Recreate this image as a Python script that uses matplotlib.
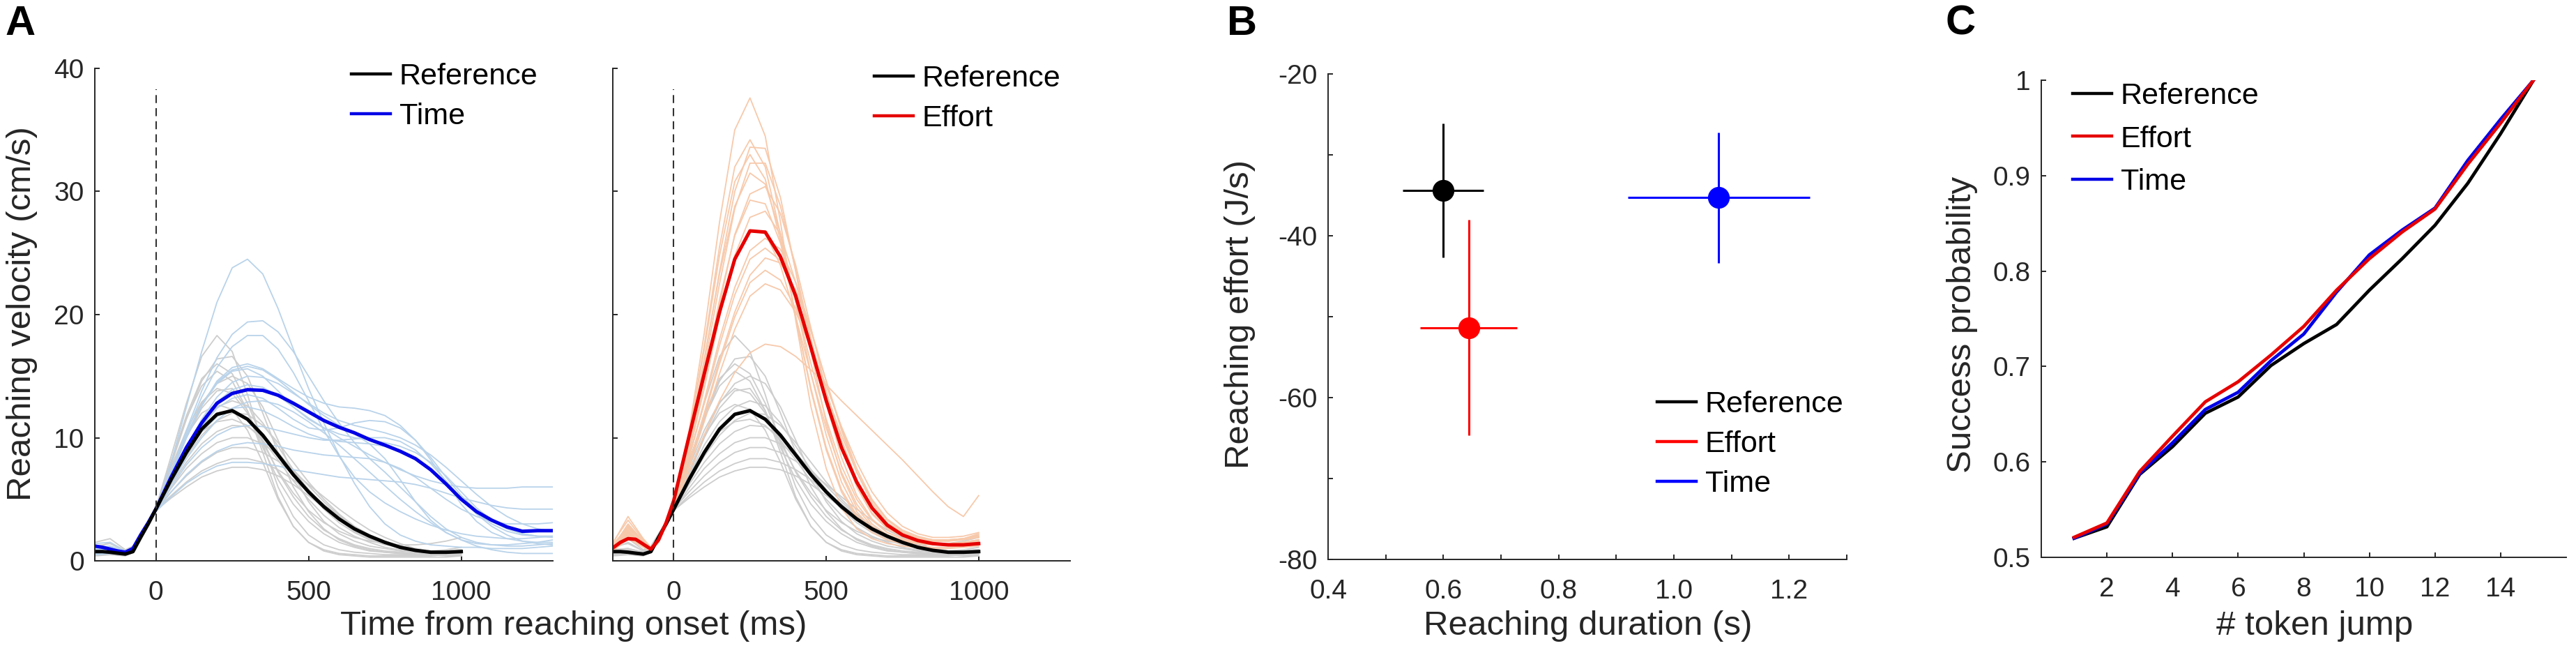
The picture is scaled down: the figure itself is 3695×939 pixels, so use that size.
import matplotlib
matplotlib.use('Agg')
import matplotlib.pyplot as plt
from matplotlib.lines import Line2D

plt.rcParams['font.family'] = ['Liberation Sans', 'DejaVu Sans']

# ---------------- data ----------------
# time grid of the group mean curves (ms)
T_MEAN = [-200, -175, -150, -125, -100, -75, -50, -25, 0, 50, 100, 150, 200, 250, 300, 350,
          400, 450, 500, 550, 600, 650, 700, 750, 800, 850, 900, 950, 1000]
T_MEAN_LONG = T_MEAN + [1050, 1100, 1150, 1200, 1250, 1300]

ref_mean = [0.75, 0.75, 0.7, 0.62, 0.55, 0.75, 1.9, 3.0, 4.2, 6.6, 8.8, 10.7, 11.9, 12.2, 11.5, 10.2,
            8.6, 7.0, 5.6, 4.4, 3.4, 2.6, 2.0, 1.5, 1.1, 0.85, 0.7, 0.7, 0.75]
time_mean = [1.2, 1.1, 0.95, 0.8, 0.7, 1.0, 2.1, 3.1, 4.2, 6.8, 9.2, 11.2, 12.8, 13.6, 13.9, 13.85,
             13.45, 12.8, 12.1, 11.4, 10.85, 10.4, 9.85, 9.4, 8.9, 8.3, 7.4, 6.25, 5.0,
             4.0, 3.3, 2.75, 2.4, 2.45, 2.45]
effort_mean = [1.05, 1.5, 1.8, 1.75, 1.35, 0.95, 1.7, 3.1, 4.9, 10.1, 15.2, 20.2, 24.5, 26.8, 26.7, 24.7,
               21.5, 17.3, 13.0, 9.2, 6.4, 4.3, 2.9, 2.1, 1.65, 1.4, 1.3, 1.3, 1.4]

# time grid of the single-subject curves (ms)
T_SUBJ = [-200, -150, -100, -75, -50, -25, 0, 50, 100, 150, 200, 250, 300, 350, 400, 450,
          500, 550, 600, 650, 700, 750, 800, 850, 900, 950, 1000]
T_SUBJ_LONG = T_SUBJ + [1050, 1100, 1150, 1200, 1250, 1300]

ref_subjects = [
    [0.5, 0.6, 0.5, 0.8, 1.8, 3.0, 4.3, 8.5, 12.8, 16.6, 18.3, 17.0, 13.5, 9.5, 6.0, 3.6, 2.1, 1.3, 0.9, 0.7, 0.6, 0.5, 0.5, 0.5, 0.5, 0.6, 0.7],
    [0.8, 0.9, 0.6, 0.9, 2.0, 3.1, 4.2, 7.8, 11.5, 14.6, 16.4, 16.6, 15.0, 12.0, 8.8, 6.0, 4.0, 2.6, 1.7, 1.2, 0.9, 0.7, 0.6, 0.6, 0.6, 0.7, 0.8],
    [1.0, 1.5, 0.8, 1.1, 2.1, 3.1, 4.3, 8.0, 11.8, 14.8, 16.0, 15.2, 12.8, 9.8, 7.2, 5.2, 3.6, 2.5, 1.8, 1.3, 1.0, 0.8, 0.7, 0.6, 0.6, 0.6, 0.7],
    [0.6, 0.7, 0.5, 0.8, 1.9, 3.0, 4.2, 7.2, 10.2, 12.8, 14.4, 15.0, 14.4, 12.5, 9.8, 7.0, 4.8, 3.2, 2.2, 1.6, 1.2, 1.0, 0.8, 0.7, 0.6, 0.7, 0.8],
    [0.4, 0.5, 0.4, 0.7, 1.8, 3.0, 4.1, 7.0, 10.0, 12.4, 13.8, 14.0, 12.2, 8.8, 5.2, 2.8, 1.5, 0.9, 0.6, 0.5, 0.4, 0.4, 0.4, 0.4, 0.4, 0.5, 0.5],
    [0.9, 1.0, 0.7, 1.0, 2.0, 3.1, 4.3, 6.9, 9.4, 11.3, 12.5, 13.0, 12.6, 11.2, 9.3, 7.4, 5.6, 4.2, 3.1, 2.3, 1.7, 1.3, 1.1, 0.9, 0.8, 0.9, 1.1],
    [0.7, 0.8, 0.6, 0.9, 2.0, 3.0, 4.2, 6.4, 8.5, 10.2, 11.4, 12.0, 11.9, 11.0, 9.6, 8.0, 6.4, 5.0, 3.8, 2.8, 2.1, 1.6, 1.2, 1.0, 0.8, 0.8, 0.9],
    [1.2, 1.4, 0.8, 1.1, 2.1, 3.1, 4.2, 6.2, 8.0, 9.5, 10.5, 11.0, 10.9, 10.1, 8.8, 7.3, 5.8, 4.4, 3.3, 2.4, 1.8, 1.4, 1.1, 0.9, 0.8, 0.8, 0.9],
    [0.5, 0.6, 0.5, 0.8, 1.9, 3.0, 4.1, 5.9, 7.5, 8.7, 9.6, 10.0, 10.0, 9.5, 8.6, 7.4, 6.1, 4.8, 3.7, 2.8, 2.1, 1.6, 1.2, 0.9, 0.7, 0.6, 0.6],
    [0.8, 0.9, 0.6, 0.9, 2.0, 3.0, 4.2, 5.6, 6.9, 8.0, 8.8, 9.2, 9.2, 8.8, 8.1, 7.2, 6.2, 5.2, 4.2, 3.3, 2.5, 1.9, 1.4, 1.0, 0.8, 0.7, 0.7],
    [0.6, 0.7, 0.5, 0.8, 1.9, 2.9, 4.1, 5.3, 6.4, 7.3, 7.9, 8.3, 8.3, 8.0, 7.4, 6.6, 5.6, 4.6, 3.6, 2.7, 2.0, 1.5, 1.1, 0.8, 0.6, 0.6, 0.6],
    [0.9, 1.0, 0.7, 1.0, 2.0, 2.9, 4.1, 5.1, 6.0, 6.8, 7.3, 7.6, 7.6, 7.4, 6.9, 6.2, 5.3, 4.3, 3.4, 2.6, 1.9, 1.4, 1.0, 0.7, 0.5, 0.4, 0.4],
    [0.5, 0.6, 0.5, 0.8, 1.9, 3.0, 4.2, 7.3, 10.2, 12.0, 12.7, 12.3, 10.6, 8.0, 5.0, 2.8, 1.5, 0.8, 0.5, 0.4, 0.3, 0.3, 0.3, 0.3, 0.3, 0.3, 0.4],
    [1.5, 1.8, 0.9, 1.2, 2.2, 3.2, 4.4, 7.6, 10.6, 12.9, 14.0, 13.6, 12.0, 9.6, 7.3, 5.5, 4.1, 3.1, 2.4, 1.9, 1.6, 1.4, 1.3, 1.3, 1.4, 1.6, 1.9],
    [0.7, 0.8, 0.6, 0.9, 2.0, 3.1, 4.3, 8.1, 11.6, 14.2, 15.4, 14.6, 12.2, 9.2, 6.6, 4.6, 3.2, 2.2, 1.5, 1.1, 0.8, 0.7, 0.6, 0.5, 0.5, 0.6, 0.7],
    [0.6, 0.7, 0.5, 0.8, 1.9, 3.0, 4.2, 6.6, 8.8, 10.5, 11.3, 11.5, 11.0, 9.8, 8.2, 6.5, 5.0, 3.7, 2.7, 2.0, 1.5, 1.1, 0.9, 0.7, 0.6, 0.6, 0.7],
]

time_subjects = [
    [0.8, 0.9, 0.6, 0.9, 2.0, 3.1, 4.2, 8.0, 12.5, 17.0, 21.0, 23.8, 24.5, 23.3, 20.5, 17.2, 14.0, 11.2, 8.6, 6.3, 4.4, 3.0, 2.1, 1.6, 1.3, 1.2, 1.1, 1.1, 1.0, 1.0, 1.0, 1.1, 1.2],
    [0.6, 0.7, 0.5, 0.8, 1.9, 3.0, 4.2, 7.2, 10.6, 13.8, 16.5, 18.4, 19.4, 19.5, 18.6, 17.0, 15.0, 13.0, 11.2, 9.6, 8.3, 7.2, 6.0, 4.8, 3.6, 2.6, 1.9, 1.5, 1.3, 1.2, 1.2, 1.3, 1.4],
    [1.0, 1.1, 0.7, 1.0, 2.0, 3.1, 4.3, 7.2, 10.4, 13.3, 15.7, 17.4, 18.3, 18.3, 17.2, 15.3, 13.0, 10.6, 8.5, 6.8, 5.6, 4.7, 4.0, 3.4, 2.9, 2.5, 2.2, 2.0, 1.9, 1.8, 1.8, 1.9, 2.0],
    [0.7, 0.8, 0.6, 0.9, 1.9, 3.0, 4.2, 7.0, 10.0, 12.6, 14.6, 15.7, 16.0, 15.6, 14.8, 14.0, 13.3, 12.8, 12.5, 12.4, 12.2, 11.8, 11.0, 9.8, 8.2, 6.4, 4.6, 3.2, 2.3, 1.8, 1.6, 1.5, 1.5],
    [1.4, 1.5, 0.8, 1.1, 2.1, 3.2, 4.3, 7.3, 10.2, 12.6, 14.4, 15.4, 15.6, 15.0, 13.8, 12.5, 11.5, 10.8, 10.3, 10.0, 9.8, 9.6, 9.3, 8.8, 8.0, 6.9, 5.6, 4.3, 3.3, 2.6, 2.2, 2.0, 2.0],
    [0.5, 0.6, 0.5, 0.8, 1.9, 3.0, 4.2, 6.6, 9.2, 11.5, 13.3, 14.5, 15.0, 14.9, 14.4, 13.6, 12.8, 12.0, 11.4, 11.0, 10.7, 10.4, 10.0, 9.4, 8.6, 7.6, 6.5, 5.4, 4.4, 3.6, 3.0, 2.6, 2.4],
    [0.9, 1.0, 0.7, 1.0, 2.0, 3.1, 4.2, 6.8, 9.3, 11.4, 12.9, 13.9, 14.3, 14.1, 13.4, 12.5, 11.6, 10.8, 10.0, 9.3, 8.6, 8.0, 7.4, 6.9, 6.5, 6.2, 6.0, 5.9, 5.9, 5.9, 6.0, 6.0, 6.0],
    [0.6, 0.7, 0.5, 0.8, 1.9, 3.0, 4.1, 6.5, 8.8, 10.9, 12.4, 13.2, 13.5, 13.2, 12.4, 11.5, 10.8, 10.6, 10.8, 11.2, 11.4, 11.3, 10.8, 9.8, 8.4, 6.8, 5.3, 4.1, 3.2, 2.6, 2.2, 2.0, 1.9],
    [1.1, 1.2, 0.8, 1.1, 2.0, 3.1, 4.2, 6.5, 8.7, 10.5, 11.7, 12.4, 12.5, 12.2, 11.6, 10.9, 10.3, 9.9, 9.7, 9.6, 9.5, 9.3, 9.0, 8.4, 7.5, 6.3, 5.0, 3.8, 2.8, 2.1, 1.6, 1.4, 1.3],
    [0.7, 0.8, 0.6, 0.9, 1.9, 3.0, 4.1, 6.0, 7.8, 9.2, 10.2, 10.8, 11.0, 10.9, 10.6, 10.3, 10.0, 9.8, 9.8, 9.9, 10.0, 10.0, 9.7, 9.0, 7.9, 6.5, 5.1, 3.9, 3.0, 2.4, 2.1, 2.0, 2.0],
    [0.5, 0.6, 0.5, 0.8, 1.9, 2.9, 4.0, 5.6, 7.0, 8.1, 8.9, 9.4, 9.6, 9.5, 9.3, 9.0, 8.8, 8.6, 8.5, 8.4, 8.3, 8.0, 7.5, 6.8, 5.9, 5.0, 4.2, 3.6, 3.2, 3.0, 3.0, 3.0, 3.1],
    [0.8, 0.9, 0.6, 0.9, 1.9, 2.9, 4.0, 5.2, 6.3, 7.1, 7.7, 8.0, 8.0, 7.9, 7.7, 7.4, 7.2, 7.0, 6.8, 6.7, 6.6, 6.5, 6.4, 6.2, 5.9, 5.5, 5.1, 4.8, 4.5, 4.3, 4.2, 4.2, 4.2],
    [0.6, 0.7, 0.5, 0.8, 1.9, 3.0, 4.2, 6.3, 8.3, 10.0, 11.4, 12.4, 12.9, 13.0, 12.7, 12.1, 11.3, 10.4, 9.4, 8.3, 7.2, 6.1, 5.0, 4.0, 3.1, 2.3, 1.7, 1.2, 0.9, 0.7, 0.6, 0.6, 0.6],
    [0.9, 1.0, 0.7, 1.0, 2.0, 3.1, 4.3, 7.1, 10.0, 12.6, 14.5, 15.5, 15.8, 15.5, 14.7, 13.7, 12.7, 11.8, 11.0, 10.3, 9.5, 8.3, 6.6, 4.8, 3.3, 2.3, 1.7, 1.4, 1.3, 1.3, 1.4, 1.5, 1.7],
]

effort_subjects = [
    [1.0, 2.5, 1.3, 0.9, 1.6, 3.0, 5.0, 10.5, 18.5, 27.5, 35.0, 37.6, 34.5, 27.5, 19.5, 12.5, 7.5, 4.3, 2.6, 1.8, 1.4, 1.2, 1.1, 1.0, 1.0, 1.1, 1.2],
    [1.3, 2.8, 1.5, 1.0, 1.7, 3.1, 5.0, 10.2, 17.5, 25.5, 32.0, 34.2, 32.0, 26.5, 19.8, 13.8, 9.0, 5.6, 3.5, 2.3, 1.7, 1.4, 1.2, 1.1, 1.1, 1.2, 1.3],
    [0.9, 2.0, 1.2, 0.9, 1.6, 3.0, 4.9, 9.6, 16.2, 23.5, 30.0, 33.6, 33.5, 29.5, 23.5, 17.0, 11.2, 7.0, 4.3, 2.8, 2.0, 1.6, 1.4, 1.3, 1.3, 1.4, 1.6],
    [1.1, 3.0, 1.6, 1.0, 1.7, 3.1, 4.8, 9.4, 15.6, 22.5, 28.6, 32.3, 32.3, 28.8, 23.6, 18.0, 12.8, 8.4, 5.3, 3.4, 2.3, 1.8, 1.5, 1.4, 1.4, 1.5, 1.7],
    [0.8, 2.2, 1.2, 0.8, 1.5, 2.9, 4.9, 9.8, 16.4, 23.3, 28.8, 31.5, 30.6, 26.6, 21.0, 15.2, 10.2, 6.4, 4.0, 2.6, 1.9, 1.6, 1.4, 1.3, 1.4, 1.5, 1.6],
    [1.4, 3.6, 1.8, 1.1, 1.8, 3.2, 4.8, 8.9, 14.6, 20.8, 26.5, 29.8, 30.4, 28.2, 24.0, 18.9, 13.8, 9.4, 6.0, 3.8, 2.6, 2.0, 1.7, 1.6, 1.6, 1.8, 2.1],
    [1.0, 2.4, 1.4, 0.9, 1.6, 3.0, 4.8, 9.2, 15.0, 21.2, 26.4, 29.3, 29.0, 25.8, 21.0, 16.0, 11.5, 7.7, 5.0, 3.3, 2.3, 1.8, 1.5, 1.4, 1.4, 1.5, 1.7],
    [1.2, 2.7, 1.5, 1.0, 1.7, 3.1, 4.7, 8.7, 14.0, 19.8, 24.8, 27.9, 28.4, 26.5, 22.6, 18.0, 13.4, 9.3, 6.1, 3.9, 2.7, 2.1, 1.8, 1.6, 1.6, 1.7, 1.9],
    [0.9, 2.1, 1.2, 0.9, 1.6, 3.0, 4.7, 8.3, 13.0, 18.0, 22.2, 25.2, 26.2, 25.3, 22.6, 18.8, 14.6, 10.6, 7.2, 4.7, 3.1, 2.3, 1.9, 1.7, 1.7, 1.8, 2.0],
    [1.5, 3.3, 1.7, 1.0, 1.8, 3.2, 4.8, 8.4, 12.8, 17.5, 21.6, 24.5, 25.4, 24.4, 21.6, 17.8, 13.7, 9.8, 6.6, 4.3, 2.9, 2.2, 1.8, 1.6, 1.6, 1.8, 2.2],
    [1.0, 2.3, 1.3, 0.9, 1.6, 3.0, 4.6, 7.9, 12.0, 16.3, 20.2, 23.2, 24.6, 24.2, 22.0, 18.6, 14.6, 10.8, 7.5, 5.0, 3.4, 2.5, 2.0, 1.7, 1.7, 1.8, 2.0],
    [0.8, 1.8, 1.1, 0.8, 1.5, 2.9, 4.6, 7.8, 11.8, 16.0, 19.8, 22.6, 23.6, 22.8, 20.5, 17.2, 13.6, 10.2, 7.2, 4.9, 3.3, 2.4, 1.9, 1.7, 1.7, 1.8, 1.9],
    [1.2, 2.6, 1.5, 1.0, 1.7, 3.1, 4.6, 7.6, 11.3, 15.2, 18.8, 21.5, 22.5, 22.0, 20.2, 17.4, 14.2, 10.9, 8.0, 5.6, 3.9, 2.8, 2.2, 1.9, 1.9, 2.0, 2.3],
    [0.9, 1.9, 1.2, 0.9, 1.6, 3.0, 4.5, 7.2, 10.2, 13.0, 15.3, 16.9, 17.6, 17.4, 16.6, 15.5, 14.3, 13.0, 11.8, 10.6, 9.4, 8.2, 6.9, 5.6, 4.4, 3.6, 5.3],
    [1.1, 2.9, 1.5, 1.0, 1.7, 3.1, 5.0, 10.3, 17.2, 24.8, 30.8, 33.0, 31.0, 26.0, 19.8, 14.0, 9.2, 5.8, 3.7, 2.5, 1.9, 1.6, 1.4, 1.3, 1.3, 1.4, 1.5],
    [1.0, 2.3, 1.4, 0.9, 1.6, 3.0, 4.8, 9.0, 14.5, 20.2, 24.6, 26.8, 26.6, 24.0, 19.8, 15.2, 10.8, 7.2, 4.6, 3.0, 2.1, 1.7, 1.5, 1.4, 1.4, 1.5, 1.7],
]

# panel B: mean duration / effort with error bars
cond_names = ['Reference', 'Effort', 'Time']
duration = [0.600, 0.644, 1.078]
duration_err = [0.070, 0.084, 0.158]
effort = [-34.4, -51.35, -35.3]
effort_err = [8.3, 13.3, 8.1]

# panel C: success probability per token jump
jumps = [1, 2, 3, 4, 5, 6, 7, 8, 9, 10, 11, 12, 13, 14, 15]
p_reference = [0.520, 0.532, 0.587, 0.616, 0.651, 0.668, 0.701, 0.724, 0.744, 0.780, 0.813, 0.848, 0.892, 0.944, 1.0]
p_effort = [0.521, 0.536, 0.590, 0.627, 0.663, 0.684, 0.712, 0.742, 0.780, 0.813, 0.841, 0.865, 0.912, 0.955, 1.0]
p_time = [0.520, 0.535, 0.588, 0.620, 0.655, 0.673, 0.706, 0.734, 0.778, 0.817, 0.843, 0.866, 0.916, 0.959, 1.0]

# ---------------- style ----------------
W, H = 3695, 939
AX_COL = '#262626'
C_REF, C_EFF, C_TIME = 'black', '#E60000', '#0000E6'
C_REF_LIGHT, C_EFF_LIGHT, C_TIME_LIGHT = '#CDCDCD', '#F7C9AB', '#B9D3EA'
TICK_FS, LABEL_FS, LEG_FS, LETTER_FS = 28, 35.5, 31, 43

fig = plt.figure(figsize=(W / 100, H / 100), dpi=100)


def add_axes_px(left, top, right, bottom):
    return fig.add_axes([left / W, 1 - bottom / H, (right - left) / W, (bottom - top) / H])


def style_axes(ax, xpad=20):
    for side in ['top', 'right']:
        ax.spines[side].set_visible(False)
    for side in ['left', 'bottom']:
        ax.spines[side].set_linewidth(1.4)
        ax.spines[side].set_color(AX_COL)
    ax.tick_params(direction='in', length=5, width=1.4, color=AX_COL,
                   labelsize=TICK_FS, labelcolor=AX_COL)
    ax.tick_params(axis='x', pad=xpad)
    ax.tick_params(axis='y', pad=11)


def add_legend(ax, handles, labels, x_px, y_px, spacing=0.4):
    ax.legend(handles, labels, loc='upper left', bbox_to_anchor=(x_px / W, 1 - y_px / H),
              bbox_transform=fig.transFigure, frameon=False, fontsize=LEG_FS,
              handlelength=1.3, handletextpad=0.3, labelspacing=spacing,
              borderpad=0, borderaxespad=0)


def leg_line(color):
    return Line2D([], [], color=color, lw=3.2)


# ---------------- panel A: velocity profiles ----------------
axA1 = add_axes_px(136, 98, 793, 804)
axA2 = add_axes_px(879, 98, 1535, 804)

for ax in [axA1, axA2]:
    for v in ref_subjects:
        ax.plot(T_SUBJ, v, color=C_REF_LIGHT, lw=1.3)

for v in time_subjects:
    axA1.plot(T_SUBJ_LONG, v, color=C_TIME_LIGHT, lw=1.3)
for v in effort_subjects:
    axA2.plot(T_SUBJ, v, color=C_EFF_LIGHT, lw=1.3)

axA1.plot(T_MEAN_LONG, time_mean, color=C_TIME, lw=3.6)
axA1.plot(T_MEAN, ref_mean, color=C_REF, lw=3.6)
axA2.plot(T_MEAN, ref_mean, color=C_REF, lw=3.6)
axA2.plot(T_MEAN, effort_mean, color=C_EFF, lw=3.6)

for ax in [axA1, axA2]:
    ax.plot([0, 0], [0, 38.3], color='#333333', lw=1.5, ls=(0, (5.5, 3.5)))
    ax.set_xlim(-200, 1300)
    ax.set_ylim(0, 40)
    ax.set_xticks([0, 500, 1000])
    ax.set_yticks([0, 10, 20, 30, 40])
    style_axes(ax)
axA2.set_yticklabels([])

add_legend(axA1, [leg_line(C_REF), leg_line(C_TIME)], ['Reference', 'Time'], 504, 90)
add_legend(axA2, [leg_line(C_REF), leg_line(C_EFF)], ['Reference', 'Effort'], 1254, 93)

fig.text(32 / W, 1 - 450 / H, 'Reaching velocity (cm/s)', rotation=90, ha='center', va='center',
         fontsize=LABEL_FS, color=AX_COL)
fig.text(823 / W, 1 - 898 / H, 'Time from reaching onset (ms)', ha='center', va='center',
         fontsize=LABEL_FS, color=AX_COL)

# ---------------- panel B: effort vs duration ----------------
axB = add_axes_px(1905, 106, 2649, 802)
colors = [C_REF, 'red', 'blue']
for i in range(len(cond_names)):
    axB.errorbar(duration[i], effort[i], xerr=duration_err[i], yerr=effort_err[i], fmt='o',
                 color=colors[i], ms=21.5, lw=2.2, capsize=0)
axB.set_xlim(0.4, 1.3)
axB.set_ylim(-80, -20)
axB.set_xticks([0.4, 0.5, 0.6, 0.7, 0.8, 0.9, 1.0, 1.1, 1.2, 1.3])
axB.set_xticklabels(['0.4', '', '0.6', '', '0.8', '', '1.0', '', '1.2', ''])
axB.set_yticks([-80, -70, -60, -50, -40, -30, -20])
axB.set_yticklabels(['-80', '', '-60', '', '-40', '', '-20'])
style_axes(axB)
add_legend(axB, [leg_line(c) for c in colors], cond_names, 2377, 560)
fig.text(1778 / W, 1 - 450 / H, 'Reaching effort (J/s)', rotation=90, ha='center', va='center',
         fontsize=LABEL_FS, color=AX_COL)
fig.text(2278 / W, 1 - 898 / H, 'Reaching duration (s)', ha='center', va='center',
         fontsize=LABEL_FS, color=AX_COL)

# ---------------- panel C: success probability ----------------
axC = add_axes_px(2928, 115, 3681, 799)
axC.plot(jumps, p_reference, color=C_REF, lw=3.4)
axC.plot(jumps, p_time, color=C_TIME, lw=3.4)
axC.plot(jumps, p_effort, color=C_EFF, lw=3.4)
axC.set_xlim(0, 16)
axC.set_ylim(0.5, 1.0)
axC.set_xticks([2, 4, 6, 8, 10, 12, 14])
axC.set_yticks([0.5, 0.6, 0.7, 0.8, 0.9, 1.0])
axC.set_yticklabels(['0.5', '0.6', '0.7', '0.8', '0.9', '1'])
style_axes(axC)
add_legend(axC, [leg_line(C_REF), leg_line(C_EFF), leg_line(C_TIME)], cond_names, 2973, 118,
           spacing=0.5)
fig.text(2814 / W, 1 - 465 / H, 'Success probability', rotation=90, ha='center', va='center',
         fontsize=LABEL_FS, color=AX_COL)
fig.text(3320 / W, 1 - 898 / H, '# token jump', ha='center', va='center',
         fontsize=LABEL_FS, color=AX_COL)

# ---------------- panel letters ----------------
for letter, x_px in [('A', 8), ('B', 1760), ('C', 2790)]:
    fig.text(x_px / W, 1 - 50 / H, letter, fontsize=LETTER_FS, fontweight='bold', va='baseline')

fig.savefig('out.png', dpi=100)
